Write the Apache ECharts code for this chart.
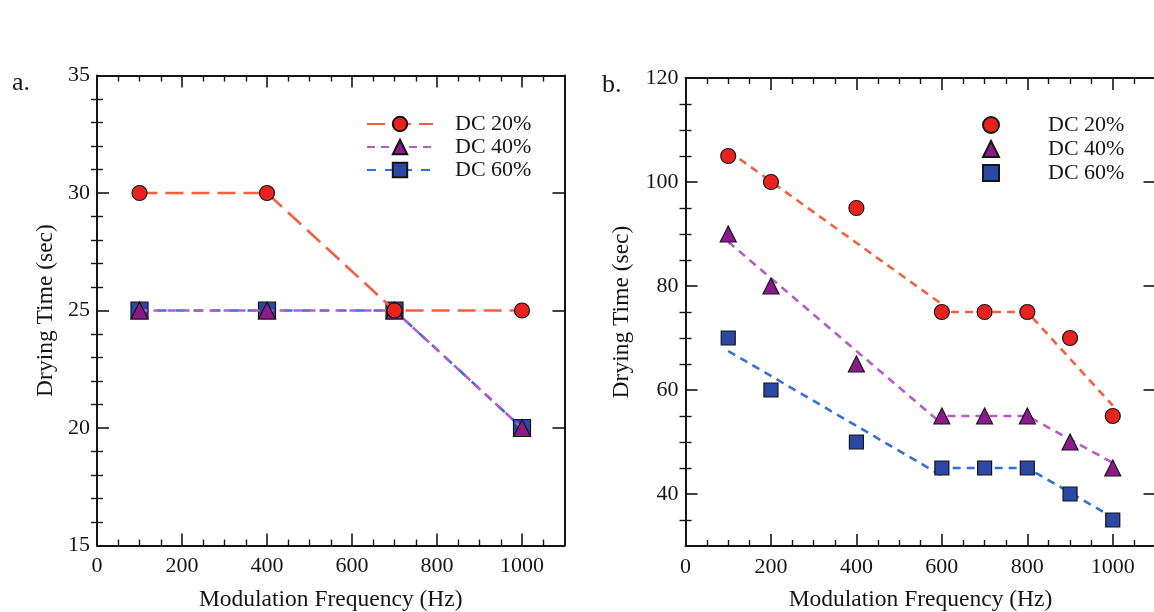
<!DOCTYPE html>
<html>
<head>
<meta charset="utf-8">
<script src="https://cdn.jsdelivr.net/npm/echarts@6/dist/echarts.min.js"></script>
<style>
  html, body { margin: 0; padding: 0; background: #fff; }
  #chart { width: 1154px; height: 612px; }
</style>
</head>
<body>
<div id="chart"></div>
<script>
// ---- data ----
const seriesNames = ['DC 20%', 'DC 40%', 'DC 60%'];

// panel a: drying time vs modulation frequency
const freqA = [100, 400, 700, 1000];
const dc20A = [30, 30, 25, 25];
const dc40A = [25, 25, 25, 20];
const dc60A = [25, 25, 25, 20];

// panel b: measured points
const freqB = [100, 200, 400, 600, 700, 800, 900, 1000];
const dc20B = [105, 100, 95, 75, 75, 75, 70, 55];
const dc40B = [90, 80, 65, 55, 55, 55, 50, 45];
const dc60B = [70, 60, 50, 45, 45, 45, 40, 35];

// panel b: dashed trend segments
const trendFreqB = [100, 600, 600, 800, 1000];
const dc20Trend = [106, 76.5, 75, 75, 57];
const dc40Trend = [88.5, 53.5, 55, 55, 46];
const dc60Trend = [67.5, 43.5, 45, 45, 35.5];

// ticks
const xMajor = [0, 200, 400, 600, 800, 1000];
const xMinor = [50, 100, 150, 250, 300, 350, 450, 500, 550, 650, 700, 750, 850, 900, 950, 1050];
const yMajorA = [15, 20, 25, 30, 35];
const yMinorA = [16, 17, 18, 19, 21, 22, 23, 24, 26, 27, 28, 29, 31, 32, 33, 34];
const yMajorB = [40, 60, 80, 100, 120];
const yMinorB = [35, 45, 50, 55, 65, 70, 75, 85, 90, 95, 105, 110, 115];

const xTitle = 'Modulation Frequency (Hz)';
const yTitle = 'Drying Time (sec)';

// ---- styling ----
const FONT = 'Liberation Serif';
const INK = '#151515';
const lineColors = ['#f4603e', '#b85ac8', '#356fd8'];
const fillColors = ['#e8231f', '#8c1a8c', '#2b48a6'];
const symbols = ['circle', 'triangle', 'rect'];

const pair = (xs, ys) => xs.map((x, i) => [x, ys[i]]);

// Builds a major + minor axis pair on one edge of a grid.
function edgeAxes(gridIndex, position, min, max, majors, minors, labels, title, titleGap) {
  const major = {
    type: 'value', gridIndex, position, min, max,
    axisLine: { show: true, onZero: false, lineStyle: { color: INK, width: 2 } },
    axisTick: { show: true, inside: true, length: 12, customValues: majors, lineStyle: { color: INK, width: 1.6 } },
    axisLabel: labels ? {
      show: true, customValues: majors, color: INK, fontFamily: FONT, fontSize: 22,
      margin: (position === 'bottom') ? 10 : 7,
      formatter: v => String(v)
    } : { show: false },
    splitLine: { show: false },
    minorTick: { show: false }
  };
  if (title) {
    major.name = title;
    major.nameLocation = 'middle';
    major.nameGap = titleGap;
    major.nameTextStyle = { fontFamily: FONT, fontSize: 23.5, color: INK };
  }
  const minor = {
    type: 'value', gridIndex, position, min, max,
    axisLine: { show: false },
    axisTick: { show: true, inside: true, length: 6, customValues: minors, lineStyle: { color: INK, width: 1.4 } },
    axisLabel: { show: false },
    splitLine: { show: false }
  };
  return [major, minor];
}

const xAxes = [
  ...edgeAxes(0, 'bottom', 0, 1100, xMajor, xMinor, true, xTitle, 42),
  ...edgeAxes(0, 'top', 0, 1100, xMajor, xMinor, false),
  ...edgeAxes(1, 'bottom', 0, 1100, xMajor, xMinor, true, xTitle, 42),
  ...edgeAxes(1, 'top', 0, 1100, xMajor, xMinor, false)
];
const yAxes = [
  ...edgeAxes(0, 'left', 15, 35, yMajorA, yMinorA, true, yTitle, 39),
  ...edgeAxes(0, 'right', 15, 35, yMajorA, yMinorA, false),
  ...edgeAxes(1, 'left', 30, 120, yMajorB, yMinorB, true, yTitle, 52),
  ...edgeAxes(1, 'right', 30, 120, yMajorB, yMinorB, false)
];

const dashA = [[18, 8], [8, 6], [9, 9]];
const sizesA = [15, 17, 17];
const sizesB = [15, 16, 14];

const series = [];
// panel a: drawn so circles sit on top of triangles, triangles on top of squares
const dataA = [dc20A, dc40A, dc60A];
[2, 1, 0].forEach(k => {
  series.push({
    name: seriesNames[k], type: 'line', xAxisIndex: 0, yAxisIndex: 0,
    data: pair(freqA, dataA[k]),
    symbol: symbols[k], symbolSize: sizesA[k], showAllSymbol: true,
    lineStyle: { color: lineColors[k], width: 2.6, type: dashA[k] },
    itemStyle: { color: fillColors[k], borderColor: INK, borderWidth: 1.2 },
    emphasis: { disabled: true }, animation: false, z: 2 + (2 - k)
  });
});

// panel b trends
const trendsB = [dc20Trend, dc40Trend, dc60Trend];
[0, 1, 2].forEach(k => {
  series.push({
    name: seriesNames[k] + ' trend', type: 'line', xAxisIndex: 4, yAxisIndex: 4,
    data: pair(trendFreqB, trendsB[k]), symbol: 'none',
    lineStyle: { color: lineColors[k], width: 2.6, type: [8, 6] },
    emphasis: { disabled: true }, animation: false, z: 2
  });
});
// panel b points
const dataB = [dc20B, dc40B, dc60B];
[0, 1, 2].forEach(k => {
  series.push({
    name: seriesNames[k], type: 'scatter', xAxisIndex: 4, yAxisIndex: 4,
    data: pair(freqB, dataB[k]),
    symbol: symbols[k], symbolSize: sizesB[k],
    itemStyle: { color: fillColors[k], borderColor: INK, borderWidth: 1.2, opacity: 1 },
    emphasis: { disabled: true }, animation: false, z: 4
  });
});

const option = {
  backgroundColor: '#fff',
  animation: false,
  textStyle: { fontFamily: FONT },
  grid: [
    { left: 97, top: 75.5, width: 467.5, height: 470, outerBoundsMode: 'none', containLabel: false },
    { left: 685.5, top: 78, width: 470, height: 468, outerBoundsMode: 'none', containLabel: false }
  ],
  xAxis: xAxes,
  yAxis: yAxes,
  legend: [
    {
      orient: 'vertical', left: 366, top: 113, itemGap: 1, padding: 0,
      itemWidth: 66, itemHeight: 18, selectedMode: false,
      data: seriesNames,
      textStyle: { fontFamily: FONT, fontSize: 22, color: INK, padding: [0, 0, 0, 17] }
    },
    {
      orient: 'vertical', left: 982, top: 114, itemGap: 2, padding: 0,
      itemWidth: 16, itemHeight: 16, selectedMode: false,
      data: seriesNames.map((n, k) => ({ name: n, icon: symbols[k] })),
      textStyle: { fontFamily: FONT, fontSize: 22, color: INK, padding: [0, 0, 0, 44] }
    }
  ],
  graphic: [
    { type: 'text', left: 12, top: 70, style: { text: 'a.', font: '26px "Liberation Serif"', fill: INK } },
    { type: 'text', left: 602, top: 72, style: { text: 'b.', font: '26px "Liberation Serif"', fill: INK } }
  ],
  series
};

const chart = echarts.init(document.getElementById('chart'), null, { renderer: 'canvas' });
chart.setOption(option);
</script>
</body>
</html>
